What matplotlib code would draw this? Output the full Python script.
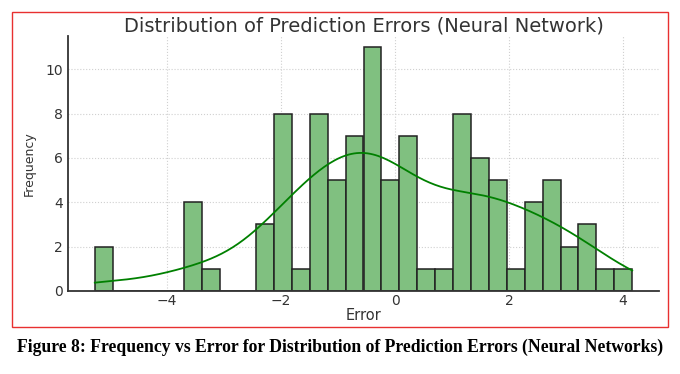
import numpy as np
import matplotlib.pyplot as plt
from matplotlib.patches import Rectangle

# histogram of prediction errors, 30 bins
bin_lo = -5.27
bin_hi = 4.16
counts = [2, 0, 0, 0, 0, 4, 1, 0, 0, 3, 8, 1, 8, 5, 7, 11, 5, 7, 1, 1,
          8, 6, 5, 1, 4, 5, 2, 3, 1, 1]
xticks = [-4, -2, 0, 2, 4]
yticks = [0, 2, 4, 6, 8, 10]

edges = np.linspace(bin_lo, bin_hi, len(counts) + 1)
centers = (edges[:-1] + edges[1:]) / 2
width = edges[1] - edges[0]
samples = np.repeat(centers, counts)

# gaussian kde (scott), scaled to counts like seaborn, cut at data range
n = len(samples)
bw = samples.std(ddof=1) * n ** (-1 / 5)
xs = np.linspace(bin_lo, bin_hi, 200)
dens = np.exp(-0.5 * ((xs[:, None] - samples[None, :]) / bw) ** 2).sum(1) / (n * bw * np.sqrt(2 * np.pi))
kde = dens * n * width

fig = plt.figure(figsize=(6.8, 3.74), dpi=100)
ax = fig.add_axes([68 / 680, 1 - 291 / 374, (659 - 68) / 680, (291 - 36) / 374])

ax.bar(edges[:-1], counts, width=width, align='edge', color='#80c080',
       edgecolor='#222222', linewidth=1.1, zorder=2)
ax.plot(xs, kde, c='green', lw=1.3, zorder=3)

ax.set_xlim(-5.74, 4.63)
ax.set_ylim(0, 11.5)
ax.set_xticks(xticks)
ax.set_yticks(yticks)
ax.set_xticklabels([str(t).replace('-', '\u2212') for t in xticks])
ax.tick_params(length=0, labelsize=10, colors='#333333')
ax.tick_params(axis='x', pad=2)
ax.grid(True, ls=':', c='#d0d0d0', lw=0.8, zorder=0)
for s in ['top', 'right']:
    ax.spines[s].set_visible(False)
for s in ['left', 'bottom']:
    ax.spines[s].set_linewidth(1.3)
    ax.spines[s].set_color('#333333')

ax.set_title('Distribution of Prediction Errors (Neural Network)', fontsize=14,
             color='#333333', pad=3)
ax.set_xlabel('Error', fontsize=10.5, color='#333333', labelpad=0)
ax.set_ylabel('Frequency', fontsize=9, color='#333333', labelpad=7)

fig.patches.append(Rectangle((12 / 680, 1 - 327 / 374), 656 / 680, 315 / 374,
                             transform=fig.transFigure, fill=False, ec='#e83030', lw=1.0))
fig.text(0.5, 1 - 347 / 374, 'Figure 8: Frequency vs Error for Distribution of Prediction Errors (Neural Networks)',
         ha='center', va='center', fontsize=12.7, fontweight='bold', family='Liberation Serif')

fig.savefig('out.png', dpi=100)
